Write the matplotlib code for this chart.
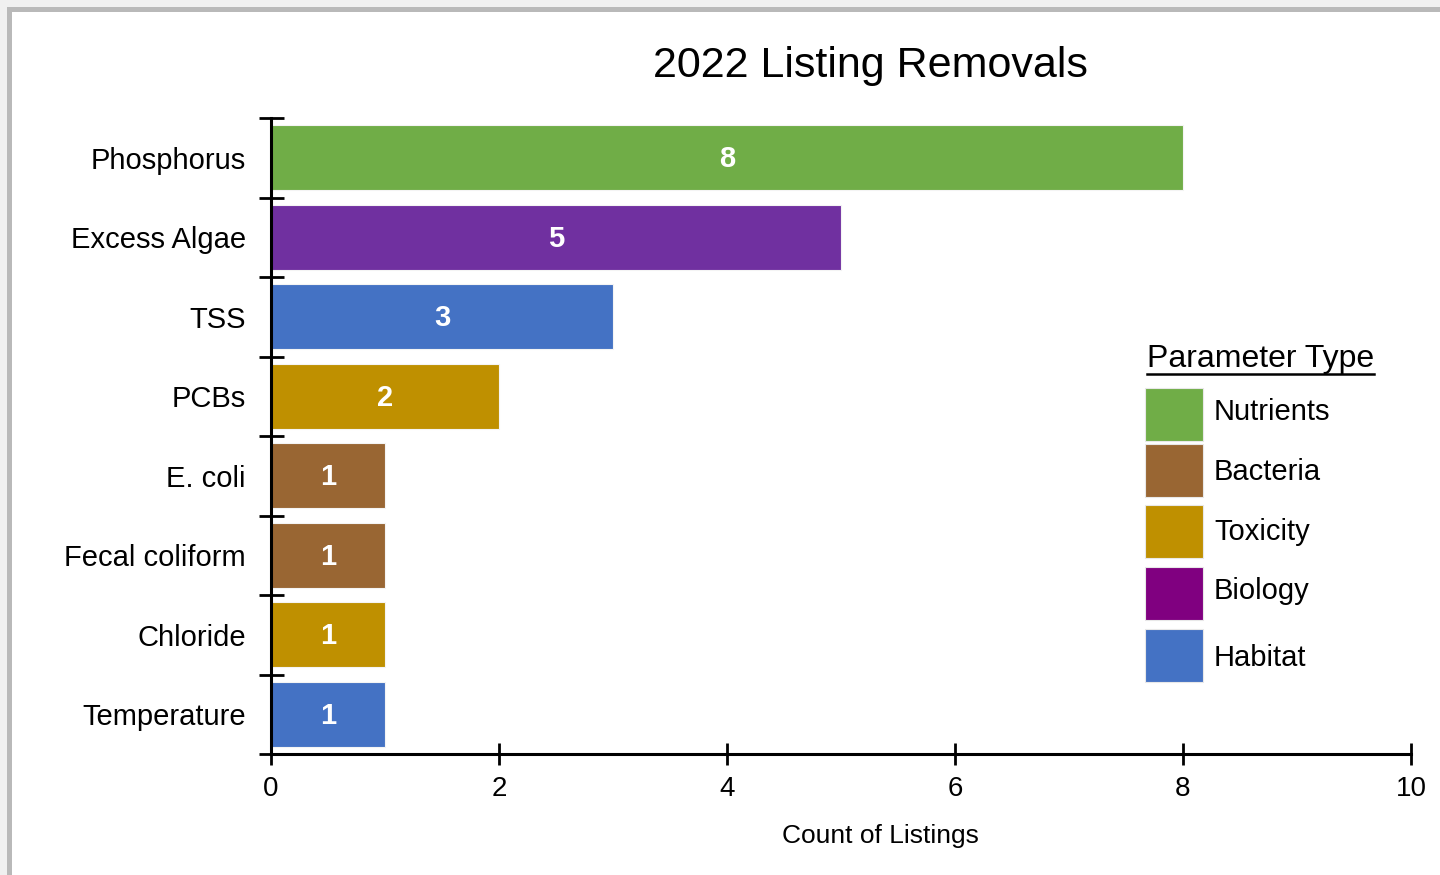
import matplotlib.pyplot as plt
import matplotlib.patches as patches
from matplotlib.lines import Line2D

plt.rcParams['font.family'] = ['Liberation Sans', 'DejaVu Sans']

parameters = ['Phosphorus', 'Excess Algae', 'TSS', 'PCBs', 'E. coli',
              'Fecal coliform', 'Chloride', 'Temperature']
counts = [8, 5, 3, 2, 1, 1, 1, 1]
bar_colors = ['#70AD47', '#7030A0', '#4472C4', '#BF9000', '#996633',
              '#996633', '#BF9000', '#4472C4']

legend_labels = ['Nutrients', 'Bacteria', 'Toxicity', 'Biology', 'Habitat']
legend_colors = ['#70AD47', '#996633', '#BF9000', '#800080', '#4472C4']

W, H = 1440, 875


def fx(px):
    return px / W


def fy(py):
    return 1 - py / H


fig = plt.figure(figsize=(14.4, 8.75), dpi=100)
fig.patch.set_facecolor('white')

# grey frame along top and left edges
fig.add_artist(patches.Rectangle((0, fy(7)), 1, 7 / H, transform=fig.transFigure,
                                 facecolor='#f0f0f0', edgecolor='none'))
fig.add_artist(patches.Rectangle((0, fy(12)), 1, 5 / H, transform=fig.transFigure,
                                 facecolor='#b9b9b9', edgecolor='none'))
fig.add_artist(patches.Rectangle((0, 0), 7 / W, fy(7), transform=fig.transFigure,
                                 facecolor='#f0f0f0', edgecolor='none'))
fig.add_artist(patches.Rectangle((7 / W, 0), 5 / W, fy(7), transform=fig.transFigure,
                                 facecolor='#b9b9b9', edgecolor='none'))

ax = fig.add_axes([fx(271), fy(754), fx(1411) - fx(271), fy(118) - fy(754)])

ypos = list(range(len(parameters)))
bars = ax.barh(ypos, counts, height=0.82, color=bar_colors,
               edgecolor='#f4f4f4', linewidth=0.8)

for bar, val in zip(bars, counts):
    ax.text(val / 2, bar.get_y() + bar.get_height() / 2 + 0.02, str(val),
            ha='center', va='center', color='white', fontsize=21,
            fontweight='bold')

ax.set_xlim(0, 10)
ax.set_ylim(len(parameters) - 0.5, -0.5)
ax.set_xticks([0, 2, 4, 6, 8, 10])

# category labels centred, tick marks on band boundaries
ax.set_yticks(ypos)
ax.set_yticklabels(parameters, fontsize=21)
ax.tick_params(axis='y', which='major', length=0, pad=18)
ax.set_yticks([i - 0.5 for i in range(len(parameters) + 1)], minor=True)
ax.tick_params(axis='y', which='minor', direction='inout', length=18, width=2)
ax.tick_params(axis='x', direction='inout', length=16, width=2,
               labelsize=20, pad=8)

for side in ['top', 'right']:
    ax.spines[side].set_visible(False)
for side in ['left', 'bottom']:
    ax.spines[side].set_linewidth(2.2)

ax.set_xlabel('Count of Listings', fontsize=19)
ax.xaxis.set_label_coords((880 - 271) / (1411 - 271), -0.11)

fig.text(fx(870), fy(66), '2022 Listing Removals', ha='center', va='center',
         fontsize=31)

# legend block
title = fig.text(fx(1147), fy(359), 'Parameter Type', ha='left', va='center',
                 fontsize=23)
fig.add_artist(Line2D([fx(1147), fx(1374)], [fy(374), fy(374)],
                      transform=fig.transFigure, color='black', linewidth=1.8))

box_tops = [388, 444, 505, 567, 629]
label_y = [412, 472, 532, 591, 658]
for top, ly, label, color in zip(box_tops, label_y, legend_labels, legend_colors):
    fig.add_artist(patches.Rectangle((fx(1145), fy(top + 53)), 58 / W, 53 / H,
                                     transform=fig.transFigure,
                                     facecolor=color, edgecolor='#e8e8e8',
                                     linewidth=0.8))
    fig.text(fx(1214), fy(ly), label, ha='left', va='center', fontsize=21)

fig.savefig('out.png', dpi=100)
